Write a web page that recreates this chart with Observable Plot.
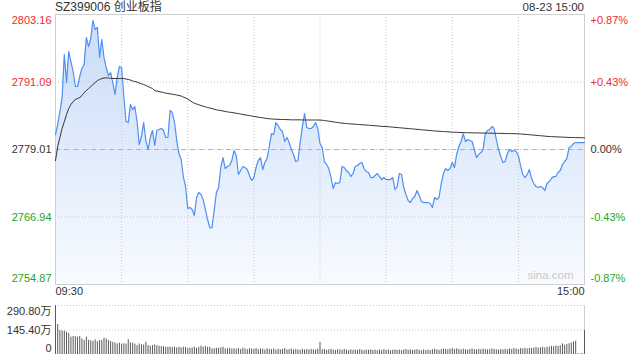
<!DOCTYPE html>
<html><head><meta charset="utf-8">
<script src="https://cdn.jsdelivr.net/npm/d3@7"></script>
<script src="https://cdn.jsdelivr.net/npm/@observablehq/plot@0.6"></script>
<style>
body{margin:0;background:#fff;font-family:"Liberation Sans",Arial,"Noto Sans CJK SC",sans-serif;}
#wrap{position:relative;width:640px;height:360px;overflow:hidden;background:#fff;}
.pl{position:absolute;left:0;}
.t{position:absolute;color:#333;white-space:nowrap;line-height:14px;}
</style></head><body>
<div id="wrap">
<div id="p1" class="pl" style="top:0"></div>
<div id="p2" class="pl" style="top:300px"></div>
<div class="t" style="left:55px;top:0;font-size:12px;">SZ399006 创业板指</div>
<div class="t" style="right:56px;top:0;font-size:11.5px;">08-23 15:00</div>
</div>
<script>
const title = "SZ399006 创业板指";
const stamp = "08-23 15:00";
const prevClose = 2779.01;
const priceTicks = [2803.16, 2791.09, 2779.01, 2766.94, 2754.87];
const pctLabels = ["+0.87%", "+0.43%", "0.00%", "-0.43%", "-0.87%"];
const timeLabels = ["09:30", "15:00"];
const timeGridIdx = [30, 60, 90, 120, 150, 180, 210];
const volTicks = [290.8, 145.4, 0];
const volLabels = ["290.80万", "145.40万", "0"];

const price = [
2781.69,2783.48,2785.81,2788.31,2796.00,2790.99,2796.54,2794.75,2792.96,2790.28,
2790.28,2792.07,2793.50,2794.21,2799.04,2797.43,2798.86,2802.08,2800.47,2800.83,
2795.46,2798.68,2795.46,2793.68,2792.24,2792.78,2790.99,2788.85,2791.89,2793.86,
2793.68,2788.49,2784.02,2783.84,2787.06,2786.16,2786.70,2784.02,2779.90,2781.34,
2783.84,2780.62,2779.01,2781.16,2782.41,2779.73,2782.41,2782.59,2782.77,2782.41,
2781.16,2781.16,2785.99,2785.63,2783.84,2780.62,2778.29,2777.22,2774.18,2772.39,
2768.46,2768.64,2768.28,2767.21,2770.43,2771.32,2770.96,2770.07,2768.28,2766.49,
2765.06,2765.06,2768.10,2771.32,2772.21,2775.79,2777.58,2775.61,2775.97,2776.15,
2777.04,2778.83,2777.94,2774.54,2775.25,2775.97,2775.79,2775.43,2774.36,2773.47,
2774.00,2775.79,2777.04,2777.58,2775.43,2776.68,2777.40,2779.55,2781.87,2781.69,
2783.84,2783.30,2782.59,2782.23,2780.44,2781.16,2780.26,2779.01,2778.12,2776.86,
2777.04,2780.26,2783.12,2785.45,2782.94,2782.77,2782.77,2783.12,2783.84,2782.77,
2780.08,2779.37,2776.86,2776.33,2775.61,2774.00,2772.03,2773.11,2772.93,2773.11,
2775.97,2775.79,2775.25,2774.90,2774.18,2774.72,2775.97,2776.15,2776.51,2776.68,
2775.61,2775.08,2774.90,2774.00,2774.00,2774.36,2774.72,2774.18,2773.64,2774.00,
2773.64,2773.64,2773.64,2774.00,2771.86,2772.39,2774.72,2774.54,2772.21,2770.96,
2769.89,2769.53,2770.25,2770.60,2771.68,2770.78,2769.71,2769.53,2769.53,2769.53,
2769.35,2768.64,2770.43,2770.07,2770.43,2772.93,2774.72,2775.61,2775.25,2775.61,
2776.68,2775.79,2778.12,2779.55,2780.44,2781.87,2780.44,2780.80,2780.62,2780.44,
2779.01,2777.58,2778.12,2778.47,2779.01,2781.87,2782.41,2782.59,2783.12,2782.77,
2780.80,2779.01,2777.76,2776.68,2776.86,2778.29,2779.01,2778.65,2778.83,2778.65,
2777.94,2776.15,2774.54,2774.00,2774.54,2775.43,2773.82,2772.93,2772.39,2772.21,
2772.39,2772.21,2771.68,2772.93,2773.29,2773.82,2774.18,2774.18,2774.90,2775.25,
2776.33,2776.86,2777.40,2779.37,2779.55,2780.08,2780.26,2780.26,2780.26,2780.26,
2780.26];

const avgPrice = [
2777.04,2779.55,2781.16,2782.77,2784.02,2785.27,2786.34,2787.06,2787.59,2787.95,
2788.13,2788.31,2788.67,2789.20,2789.56,2789.92,2790.28,2790.64,2790.99,2791.35,
2791.53,2791.71,2791.80,2791.83,2791.80,2791.76,2791.71,2791.71,2791.71,2791.71,
2791.71,2791.71,2791.62,2791.53,2791.44,2791.26,2791.17,2791.08,2790.90,2790.76,
2790.64,2790.46,2790.28,2790.10,2789.92,2789.56,2789.47,2789.38,2789.29,2789.20,
2789.11,2789.03,2788.97,2788.90,2788.85,2788.76,2788.67,2788.58,2788.40,2788.22,
2788.04,2787.77,2787.51,2787.29,2787.15,2787.02,2786.88,2786.75,2786.65,2786.52,
2786.43,2786.34,2786.22,2786.11,2786.04,2785.99,2785.90,2785.81,2785.75,2785.68,
2785.63,2785.57,2785.50,2785.45,2785.36,2785.27,2785.22,2785.14,2785.09,2785.00,
2784.91,2784.86,2784.79,2784.73,2784.68,2784.61,2784.55,2784.52,2784.48,2784.45,
2784.43,2784.41,2784.39,2784.38,2784.38,2784.36,2784.34,2784.32,2784.32,2784.32,
2784.32,2784.32,2784.30,2784.30,2784.29,2784.29,2784.29,2784.29,2784.29,2784.29,
2784.27,2784.25,2784.20,2784.14,2784.09,2784.02,2783.96,2783.89,2783.84,2783.79,
2783.73,2783.70,2783.66,2783.62,2783.59,2783.57,2783.53,2783.50,2783.48,2783.45,
2783.41,2783.39,2783.36,2783.32,2783.30,2783.27,2783.23,2783.20,2783.16,2783.12,
2783.12,2783.09,2783.05,2783.02,2782.98,2782.94,2782.91,2782.87,2782.84,2782.80,
2782.77,2782.73,2782.69,2782.66,2782.62,2782.59,2782.55,2782.52,2782.48,2782.44,
2782.41,2782.37,2782.34,2782.30,2782.28,2782.25,2782.23,2782.19,2782.18,2782.14,
2782.12,2782.10,2782.09,2782.07,2782.05,2782.05,2782.03,2782.01,2782.01,2781.99,
2781.99,2781.98,2781.98,2781.96,2781.96,2781.96,2781.94,2781.94,2781.92,2781.92,
2781.91,2781.91,2781.89,2781.89,2781.87,2781.87,2781.87,2781.85,2781.85,2781.84,
2781.82,2781.80,2781.76,2781.73,2781.69,2781.66,2781.62,2781.59,2781.55,2781.51,
2781.48,2781.44,2781.41,2781.37,2781.34,2781.32,2781.30,2781.28,2781.26,2781.25,
2781.23,2781.21,2781.19,2781.17,2781.16,2781.16,2781.14,2781.14,2781.12,2781.12,
2781.10];

const volume = [
290.8,178,142,140,138,133,125,103,107,106,
102,107,92,83,103,84,82,77,87,76,
83,84,97,92,83,77,72,68,63,67,
62,63,62,88,69,67,62,53,63,57,
56,73,53,49,53,57,52,49,47,46,
43,43,44,42,43,39,43,39,43,42,
37,37,39,43,37,43,49,43,48,43,
42,33,34,37,37,39,43,33,34,37,
33,34,31,36,30,38,33,29,35,32,
30,36,28,33,31,27,34,30,29,33,
26,31,28,30,35,27,29,32,26,30,
28,25,31,27,29,26,30,28,27,32,
72,27,30,25,28,31,26,24,29,27,
25,30,26,23,28,25,27,24,29,26,
22,27,25,28,24,26,23,27,25,29,
24,26,22,25,28,24,26,23,27,30,
25,28,24,26,29,25,22,27,24,26,
23,28,31,27,25,29,33,30,28,32,
35,30,34,29,27,31,28,26,30,33,
29,27,31,28,32,30,27,29,33,30,
28,26,29,27,31,28,33,30,35,32,
29,35,34,37,33,36,35,38,41,37,
40,43,39,42,45,49,46,50,48,52,
63,55,60,64,69,74,79,5,4,6,
142];

const RED = "#f02a2a", GREEN = "#1fa51f", DARK = "#333";
const colorOf = v => v > prevClose + 1e-9 ? RED : (v < prevClose - 1e-9 ? GREEN : DARK);
const rows = price.map((p, i) => ({i, p, a: avgPrice[i]}));
const n = price.length - 1;
const yMin = priceTicks[priceTicks.length - 1], yMax = priceTicks[0];
const tickRows = priceTicks.map((v, k) => ({v, k, pct: pctLabels[k]}));
const fontStyle = {background: "transparent", fontFamily: "'Liberation Sans', Arial, 'Noto Sans CJK SC', sans-serif", fontSize: "11px", overflow: "visible"};

const main = Plot.plot({
  width: 640, height: 300,
  marginLeft: 55, marginRight: 56, marginTop: 14, marginBottom: 16,
  style: fontStyle,
  x: {domain: [0, n], axis: null},
  y: {domain: [yMin, yMax], axis: null},
  color: {type: "identity"},
  marks: [
    Plot.areaY(rows, {x: "i", y1: yMin, y2: "p", fill: "url(#fillGrad)"}),
    Plot.ruleY([priceTicks[1], priceTicks[3]], {stroke: "#c8c8c8", strokeDasharray: "1,2"}),
    Plot.ruleX(timeGridIdx, {stroke: "#c8c8c8", strokeDasharray: "1,2"}),
    Plot.ruleY([prevClose], {stroke: "#c8c8c8", strokeDasharray: "1,2"}),
    Plot.ruleY([prevClose], {stroke: "#f0a072", strokeDasharray: "5,4"}),
    Plot.frame({stroke: "#cfcfcf"}),
    Plot.text(["sina.com"], {frameAnchor: "bottom-right", textAnchor: "end", dx: -11, dy: -6, fill: "#c8c8c8", fontSize: 11.5}),
    Plot.lineY(rows, {x: "i", y: "p", stroke: "#4f8ff2", strokeWidth: 1.2}),
    Plot.lineY(rows, {x: "i", y: "a", stroke: "#333", strokeWidth: 1}),
    Plot.text(tickRows, {filter: d => d.k === 0, y: "v", text: d => d.v.toFixed(2), fill: d => colorOf(d.v), frameAnchor: "left", textAnchor: "end", dx: -4, dy: 6}),
    Plot.text(tickRows, {filter: d => d.k > 0 && d.k < 4, y: "v", text: d => d.v.toFixed(2), fill: d => colorOf(d.v), frameAnchor: "left", textAnchor: "end", dx: -4}),
    Plot.text(tickRows, {filter: d => d.k === 4, y: "v", text: d => d.v.toFixed(2), fill: d => colorOf(d.v), frameAnchor: "left", textAnchor: "end", dx: -4, dy: -6}),
    Plot.text(tickRows, {filter: d => d.k === 0, y: "v", text: "pct", fill: d => colorOf(d.v), frameAnchor: "right", textAnchor: "start", dx: 6, dy: 6}),
    Plot.text(tickRows, {filter: d => d.k > 0 && d.k < 4, y: "v", text: "pct", fill: d => colorOf(d.v), frameAnchor: "right", textAnchor: "start", dx: 6}),
    Plot.text(tickRows, {filter: d => d.k === 4, y: "v", text: "pct", fill: d => colorOf(d.v), frameAnchor: "right", textAnchor: "start", dx: 6, dy: -6}),
    Plot.text([timeLabels[0]], {frameAnchor: "bottom-left", textAnchor: "start", dy: 10, fill: DARK}),
    Plot.text([timeLabels[1]], {frameAnchor: "bottom-right", textAnchor: "end", dy: 10, fill: DARK})
  ]
});
const NS = "http://www.w3.org/2000/svg";
const defs = document.createElementNS(NS, "defs");
const grad = document.createElementNS(NS, "linearGradient");
grad.setAttribute("id", "fillGrad");
grad.setAttribute("gradientUnits", "userSpaceOnUse");
grad.setAttribute("x1", "0"); grad.setAttribute("x2", "0");
grad.setAttribute("y1", "14"); grad.setAttribute("y2", "284");
[["0", "#c9dbf8"], ["1", "#f8fbff"]].forEach(([o, c]) => {
  const s = document.createElementNS(NS, "stop");
  s.setAttribute("offset", o); s.setAttribute("stop-color", c);
  grad.appendChild(s);
});
defs.appendChild(grad);
main.insertBefore(defs, main.firstChild);
document.getElementById("p1").appendChild(main);

const volRows = volume.map((v, i) => ({i, v}));
const volTickRows = volTicks.map((v, k) => ({v, k, label: volLabels[k]}));
const vol = Plot.plot({
  width: 640, height: 60,
  marginLeft: 55, marginRight: 56, marginTop: 5, marginBottom: 6,
  style: fontStyle,
  x: {domain: [0, n], axis: null},
  y: {domain: [0, volTicks[0]], axis: null},
  marks: [
    Plot.ruleY([volTicks[0], volTicks[1]], {stroke: "#c8c8c8", strokeDasharray: "1,2"}),
    Plot.ruleX([0, n], {stroke: "#cfcfcf"}),
    Plot.ruleX(volRows, {x: "i", y1: 0, y2: "v", stroke: "#5a5a5a", strokeWidth: 1}),
    Plot.text(volTickRows, {filter: d => d.k === 0, y: "v", text: "label", frameAnchor: "left", textAnchor: "end", dx: -4, dy: 6, fill: DARK}),
    Plot.text(volTickRows, {filter: d => d.k === 1, y: "v", text: "label", frameAnchor: "left", textAnchor: "end", dx: -4, fill: DARK}),
    Plot.text(volTickRows, {filter: d => d.k === 2, y: "v", text: "label", frameAnchor: "left", textAnchor: "end", dx: -4, dy: -6, fill: DARK})
  ]
});
document.getElementById("p2").appendChild(vol);
</script>
</body></html>
